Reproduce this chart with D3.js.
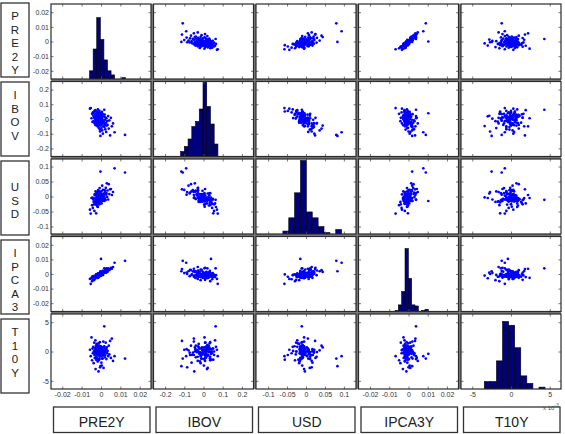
<!DOCTYPE html>
<html><head><meta charset="utf-8">
<script src="https://cdn.jsdelivr.net/npm/d3@7"></script>
<style>body{margin:0;background:#fff}svg{display:block}</style>
</head><body><svg id="c" width="565" height="434"></svg>
<script>
// ---------- DATA ----------
const variables = ["PRE2Y", "IBOV", "USD", "IPCA3Y", "T10Y"];
// observations stored as integers; multiply by the unit to get the value
const units = [1e-4, 1e-3, 1e-3, 1e-4, 1e-4];
const PRE2Y = [-57,-53,-49,-46,-44,-42,-40,-38,-37,-35,-34,-33,-32,-31,-30,-29,-28,-28,-27,-26,-26,-25,-25,-24,-24,-23,-23,-22,-21,-21,-20,-20,-19,-19,-18,-18,-18,-17,-17,-16,-16,-16,-15,-15,-14,-14,-14,-13,-13,-12,-12,-12,-11,-11,-10,-10,-10,-9,-9,-9,-8,-8,-8,-7,-7,-7,-6,-6,-6,-5,-5,-5,-4,-3,-2,-2,-1,-1,0,0,1,1,2,2,3,3,4,4,5,5,6,7,8,8,9,10,11,12,13,14,16,17,18,19,20,21,22,24,25,27,28,30,32,34,37,40,43,47,51,56,62,124,70,-3,0,17];
const IBOV = [70,74,5,35,-20,45,22,-15,40,8,55,-30,12,30,-5,60,18,-42,3,26,-20,51,9,-8,35,-25,14,45,10,-35,28,0,-12,50,6,-50,20,15,-18,38,-3,65,-28,8,24,-8,2,-48,32,-15,12,-60,18,4,-22,42,-6,28,-40,9,55,-12,0,22,-30,14,-72,35,-10,6,-85,18,-2,-5,25,-28,12,-45,40,0,-15,30,-62,8,-20,18,-35,2,48,-10,-78,15,-25,-4,33,-100,-12,-50,22,-30,-20,15,-55,30,-40,-5,-70,10,-28,-88,5,-45,-15,-40,20,-65,-10,-112,8,-50,-30,-108,-90,-115,39,63];
const USD = [-44,-57,-5,-29,-4,-38,-10,-18,-7,-26,-48,7,-15,4,-15,-23,-5,17,-27,-11,-14,-56,4,-13,11,-18,-8,-25,-9,7,-30,-2,-15,-10,-34,15,-9,-14,-17,-4,-9,-35,21,-16,-7,-11,6,-3,-22,-4,-12,18,-15,2,-17,-20,-3,10,-8,-10,-26,3,-12,-7,28,-13,10,-10,-7,-16,15,-4,-6,-17,-3,-5,-6,16,-13,-15,3,-10,17,-4,-9,-23,7,-10,-8,6,36,-10,-13,7,-15,22,2,-5,10,1,8,-15,21,-4,-8,19,13,-12,29,6,11,44,-2,20,-10,41,8,24,25,5,15,80,94,83,-15,-11];
const IPCA3Y = [-34,-67,-26,-49,-16,-36,-16,-42,-15,-40,-19,-34,-25,-18,-15,-21,-29,-27,-6,-26,-12,-3,-18,-20,-19,-18,-17,-18,-17,-18,-2,-25,-5,-22,-6,-18,-16,-8,-19,4,-27,-8,0,-19,-14,-4,-12,-11,-2,-21,1,-2,-20,-3,-5,-13,-8,-5,-7,-12,-5,-5,3,-6,-8,3,-15,-10,-1,1,0,-8,-4,-5,-2,-9,0,14,-6,8,-11,7,-6,4,5,4,-3,6,6,-2,19,-2,11,-7,21,6,-6,20,9,8,15,14,17,12,16,17,29,9,24,10,39,14,31,16,39,26,28,34,43,36,48,90,77,19,103,39];
const T10Y = [3,-8,24,-15,5,-3,8,-20,0,15,-6,2,-11,6,-2,19,-30,4,-5,10,-1,-14,1,7,-9,13,-4,0,-11,3,9,-2,-12,5,1,-6,11,-1,-17,4,-3,8,0,-16,6,-5,2,-34,14,-2,3,-6,1,7,-3,-14,4,-1,10,-7,0,5,-13,2,-9,6,-2,16,-5,1,-27,3,-1,4,-6,9,-3,0,-2,6,-8,3,-19,1,-4,8,-1,-24,5,-12,2,-5,7,-2,-12,3,-7,17,-28,0,-4,9,-2,6,-10,2,-6,15,-1,4,-13,7,-3,1,-8,10,-5,18,-11,22,-16,-12,-8,-25,-4,43];

// histogram on the diagonal: 10 bins between the data min and max
const HIST_PRE2Y  = [6, 22, 45, 29, 14, 6, 3, 0, 0, 1];
const HIST_IBOV   = [2, 4, 7, 12, 14, 19, 30, 20, 13, 5];
const HIST_USD    = [2, 11, 28, 50, 15, 11, 5, 1, 0, 3];
const HIST_IPCA3Y = [1, 6, 18, 57, 30, 6, 5, 0, 1, 2];
const HIST_T10Y   = [4, 4, 15, 36, 34, 22, 7, 3, 0, 1];
const histRange = [[-0.0059, 0.0126], [-0.119, 0.075], [-0.061, 0.094], [-0.0070, 0.0103], [-0.00344, 0.00439]];
const histYMax = [55, 30, 51, 68, 40];

// axis limits and ticks
const xLimit = [0.0258, 0.26, 0.132, 0.026, 0.00645];
const yLimit = [0.0256, 0.255, 0.125, 0.0257, 0.0064];
const tickValues = [
  [-0.02, -0.01, 0, 0.01, 0.02],
  [-0.2, -0.1, 0, 0.1, 0.2],
  [-0.1, -0.05, 0, 0.05, 0.1],
  [-0.02, -0.01, 0, 0.01, 0.02],
  [-0.005, 0, 0.005]
];
const tickLabels = [
  ["-0.02", "-0.01", "0", "0.01", "0.02"],
  ["-0.2", "-0.1", "0", "0.1", "0.2"],
  ["-0.1", "-0.05", "0", "0.05", "0.1"],
  ["-0.02", "-0.01", "0", "0.01", "0.02"],
  ["-5", "0", "5"]
];

// ---------- DRAW ----------
const raw = [PRE2Y, IBOV, USD, IPCA3Y, T10Y];
const hists = [HIST_PRE2Y, HIST_IBOV, HIST_USD, HIST_IPCA3Y, HIST_T10Y];
const data = raw.map((a, i) => a.map(v => v * units[i]));
const n = variables.length;
const FONT = "'Liberation Sans', Arial, Helvetica, sans-serif";

const gx0 = 51, gy0 = 4, stepX = 102.5, stepY = 77.5, pw = 100, ph = 75;
const colX = d3.range(n).map(j => gx0 + j * stepX);
const rowY = d3.range(n).map(i => gy0 + i * stepY);

const xs = d3.range(n).map(j => d3.scaleLinear().domain([-xLimit[j], xLimit[j]]).range([colX[j], colX[j] + pw]));
const ys = d3.range(n).map(i => d3.scaleLinear().domain([-yLimit[i], yLimit[i]]).range([rowY[i] + ph, rowY[i]]));

const svg = d3.select("#c");
svg.append("rect").attr("width", 565).attr("height", 434).attr("fill", "#fff");

// gray gaps between panels
svg.append("rect")
  .attr("x", colX[0]).attr("y", rowY[0])
  .attr("width", colX[n - 1] + pw - colX[0]).attr("height", rowY[n - 1] + ph - rowY[0])
  .attr("fill", "#7c7c7c");

const defs = svg.append("defs");

for (let i = 0; i < n; i++) {
  for (let j = 0; j < n; j++) {
    const g = svg.append("g");
    const px = colX[j], py = rowY[i];
    g.append("rect").attr("x", px).attr("y", py).attr("width", pw).attr("height", ph)
      .attr("fill", "#fff");
    const cid = `clip-${i}-${j}`;
    defs.append("clipPath").attr("id", cid).append("rect")
      .attr("x", px).attr("y", py).attr("width", pw).attr("height", ph);
    const content = g.append("g").attr("clip-path", `url(#${cid})`);

    if (i === j) {
      const counts = hists[i];
      const [lo, hi] = histRange[i];
      const bw = (hi - lo) / counts.length;
      const hy = d3.scaleLinear().domain([0, histYMax[i]]).range([py + ph, py]);
      content.selectAll("rect.bar")
        .data(counts.map((c, k) => ({ c, x0: lo + k * bw, x1: lo + (k + 1) * bw })).filter(d => d.c > 0))
        .enter().append("rect")
        .attr("x", d => xs[j](d.x0))
        .attr("width", d => xs[j](d.x1) - xs[j](d.x0))
        .attr("y", d => hy(d.c))
        .attr("height", d => hy(0) - hy(d.c))
        .attr("fill", "#000080")
        .attr("stroke", "#000")
        .attr("stroke-width", 0.6);
    } else {
      content.selectAll("circle")
        .data(d3.range(data[0].length))
        .enter().append("circle")
        .attr("cx", k => xs[j](data[j][k]))
        .attr("cy", k => ys[i](data[i][k]))
        .attr("r", 1.35)
        .attr("fill", "#0000ff");
    }

    // inward ticks on all four sides
    const tick = 2.5;
    const axes = [
      [d3.axisBottom(xs[j]).tickValues(tickValues[j]), py + ph, true, i === n - 1],
      [d3.axisTop(xs[j]).tickValues(tickValues[j]), py, true, false],
      [d3.axisLeft(ys[i]).tickValues(tickValues[i]), px, false, j === 0],
      [d3.axisRight(ys[i]).tickValues(tickValues[i]), px + pw, false, false]
    ];
    axes.forEach(([ax, pos, horiz, labels]) => {
      const idx = horiz ? j : i;
      ax.tickSizeInner(-tick).tickSizeOuter(0)
        .tickFormat((d, k) => labels ? tickLabels[idx][k] : "")
        .tickPadding(horiz ? 3.5 : 2);
      const ag = g.append("g")
        .attr("transform", horiz ? `translate(0,${pos})` : `translate(${pos},0)`)
        .call(ax);
      ag.select(".domain").remove();
      ag.selectAll("line").attr("stroke", "#555").attr("stroke-width", 0.8);
      ag.selectAll("text").attr("font-size", 7).attr("font-family", FONT).attr("fill", "#333");
      ag.attr("font-size", null).attr("font-family", null);
    });

    g.append("rect").attr("x", px).attr("y", py).attr("width", pw).attr("height", ph)
      .attr("fill", "none").attr("stroke", "#2b2b2b").attr("stroke-width", 1.2);
  }
}

// x10^-3 exponent label for T10Y
const ex = svg.append("text").attr("x", 543).attr("y", 409.5)
  .attr("font-family", FONT).attr("font-size", 6).attr("fill", "#555");
ex.append("tspan").text("x 10");
ex.append("tspan").attr("dy", -3).attr("font-size", 5).text("-3");

// left row-label boxes (vertical letters)
const lineH = 13.5, boxH = 74;
variables.forEach((name, i) => {
  const top = 3 + i * 79;
  const cid = `lclip-${i}`;
  defs.append("clipPath").attr("id", cid).append("rect")
    .attr("x", 1).attr("y", top).attr("width", 28).attr("height", boxH - 2.5);
  svg.append("rect").attr("x", 1).attr("y", top).attr("width", 28).attr("height", boxH)
    .attr("fill", "#fff").attr("stroke", "#333").attr("stroke-width", 1.3);
  const letters = name.split("");
  const first = letters.length <= 3 ? (boxH - (letters.length - 1) * lineH) / 2 + 2.5 : 13.3;
  const tg = svg.append("g").attr("clip-path", `url(#${cid})`);
  letters.forEach((ch, k) => {
    tg.append("text").attr("x", 15).attr("y", top + first + k * lineH + 4)
      .attr("text-anchor", "middle").attr("font-family", FONT).attr("font-size", 11.5)
      .attr("fill", "#222").text(ch);
  });
});

// bottom column-label boxes
variables.forEach((name, j) => {
  const left = colX[j] + 2.5;
  svg.append("rect").attr("x", left).attr("y", 407).attr("width", 96.5).attr("height", 25.5)
    .attr("fill", "none").attr("stroke", "#333").attr("stroke-width", 1.3);
  svg.append("text").attr("x", left + 96.5 / 2).attr("y", 426.5)
    .attr("text-anchor", "middle").attr("font-family", FONT).attr("font-size", 14)
    .attr("fill", "#222").text(name);
});
</script>
</body></html>
